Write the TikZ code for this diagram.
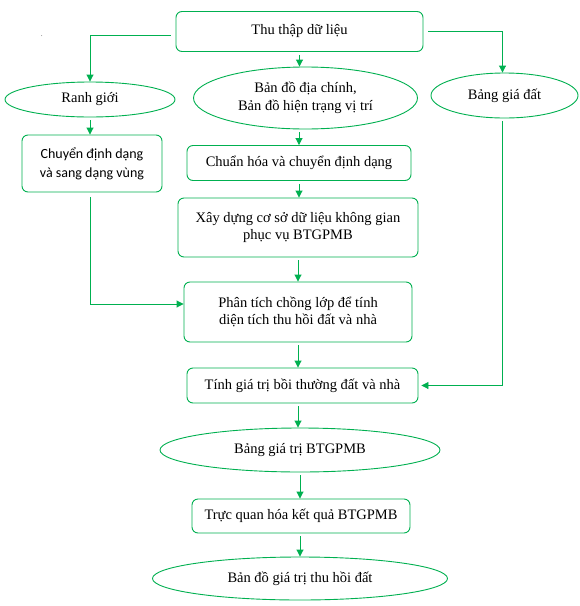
\documentclass[tikz,border=0pt]{standalone}
\usepackage{fontspec}
\setmainfont{Liberation Serif}
\newfontfamily\serfont{Liberation Serif}
\newfontfamily\calfont{Carlito}
\usetikzlibrary{shapes.geometric,arrows.meta}
\definecolor{gr}{RGB}{0,176,80}
\tikzset{
  x=1pt,y=-1pt,
  box/.style={draw=gr,line width=0.9pt,rounded corners=6pt,inner sep=0pt,align=center,font=\serfont\fontsize{14.5}{17.5}\selectfont},
  ell/.style={draw=gr,line width=0.9pt,ellipse,inner sep=0pt,align=center,font=\serfont\fontsize{14.5}{17.5}\selectfont},
  arr/.style={draw=gr,line width=0.9pt,-{Triangle[width=7pt,length=7pt]},shorten <=3pt}
}
\begin{document}
\begin{tikzpicture}
\useasboundingbox[fill=white] (0,0) rectangle (580,606);
\node[font=\fontsize{6}{6}\selectfont,inner sep=0pt] (dot) at (42,36) {.};
\node[box,minimum width=247pt,minimum height=40pt] (thu) at (299.5,31.5) {\raisebox{4pt}{Thu thập dữ liệu}};
\node[ell,minimum width=170pt,minimum height=35pt] (ranh) at (90,99.5) {Ranh giới};
\node[ell,minimum width=224pt,minimum height=62pt] (bando) at (305.5,98) {Bản đồ địa chính,\\Bản đồ hiện trạng vị trí};
\node[ell,minimum width=147pt,minimum height=45pt] (bang) at (504.5,95.5) {Bảng giá đất};
\node[box,minimum width=140pt,minimum height=57pt,font=\calfont\fontsize{14}{19}\selectfont] (chuyen) at (92,163.5) {Chuyển định dạng\\và sang dạng vùng};
\node[box,minimum width=224pt,minimum height=35pt] (chuan) at (299,163) {Chuẩn hóa và chuyển định dạng};
\node[box,minimum width=240pt,minimum height=59pt] (xay) at (298,227.5) {Xây dựng cơ sở dữ liệu không gian\\phục vụ BTGPMB};
\node[box,minimum width=228pt,minimum height=60pt] (phan) at (298,312) {Phân tích chồng lớp để tính\\diện tích thu hồi đất và nhà};
\node[box,minimum width=231pt,minimum height=35pt] (tinh) at (302.5,385.5) {Tính giá trị bồi thường đất và nhà};
\node[ell,minimum width=280pt,minimum height=44pt] (bgt) at (300,450) {Bảng giá trị BTGPMB};
\node[box,minimum width=218pt,minimum height=34pt] (truc) at (301,516) {Trực quan hóa kết quả BTGPMB};
\node[ell,minimum width=295pt,minimum height=43pt] (bdgt) at (300,578.5) {Bản đồ giá trị thu hồi đất};

\draw[arr,shorten <=5pt] ([yshift=-3.5pt]thu.west) -| (ranh.north);
\draw[arr,shorten <=5pt] ([yshift=0.5pt]thu.east) -| ([xshift=-2pt]bang.north);
\draw[arr] (thu.south) -- (thu.south |- bando.north);
\draw[arr] (ranh.south) -- (ranh.south |- chuyen.north);
\draw[arr] (chuan.north |- bando.south) -- (chuan.north);
\draw[arr] (chuan.south) -- (chuan.south |- xay.north);
\draw[arr] (xay.south) -- (xay.south |- phan.north);
\draw[arr] (phan.south) -- (phan.south |- tinh.north);
\draw[arr] (phan.south |- tinh.south) -- (phan.south |- bgt.north);
\draw[arr] (bgt.south) -- (bgt.south |- truc.north);
\draw[arr] (truc.south -| bgt.south) -- (bgt.south |- bdgt.north);
\draw[arr,shorten <=5pt] ([xshift=-2pt]chuyen.south) |- ([yshift=8pt]phan.west);
\draw[arr,shorten >=3pt] ([xshift=-2pt]bang.south) |- (tinh.east);
\end{tikzpicture}
\end{document}
